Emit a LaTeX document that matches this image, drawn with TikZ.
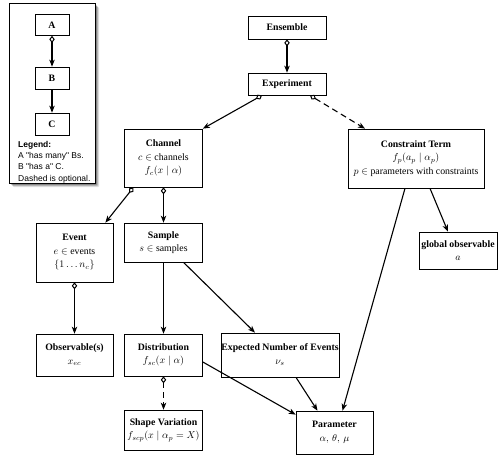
\documentclass[tikz,border=0pt]{standalone}
\usepackage{amsmath}
\usepackage{amssymb}
\usepackage{fontspec}
\setmainfont{Liberation Serif}
\newfontfamily\legendfont{Liberation Sans}
\usetikzlibrary{arrows.meta}

\begin{document}
\begin{tikzpicture}
[x=1pt,y=-1pt,font=\fontsize{9.8}{13.5}\selectfont]
\tikzset{
	box/.style = {draw, line width=0.7pt, fill=white, align=center, inner sep=0pt, minimum width=78pt},
	has many/.style = {line width=1.1pt, {Diamond[open,length=7pt,width=5.5pt,line width=1pt]}-{Stealth[length=7pt,width=5.5pt,inset=2pt]}},
	has a/.style = {line width=1.1pt, -{Stealth[length=7pt,width=5.5pt,inset=2pt]}},
	legendbox/.style = {draw, line width=1pt, fill=white, minimum width=86pt, minimum height=180pt}
}
\useasboundingbox (0,0) rectangle (498,456);

% legend, with a soft shadow
\foreach \s/\o in {4/0.12, 3/0.18, 2/0.25, 1/0.3}
	\fill [black, opacity=\o, rounded corners=1pt] (9+\s,3+\s) rectangle (95+\s,183+\s);
\node (leg) [legendbox] at (52,93) {};
\node (A) [box, minimum width=34pt, minimum height=21pt] at (52,25) {\textbf{A}};
\node (B) [box, minimum width=34pt, minimum height=22pt] at (52,78) {\textbf{B}};
\node (C) [box, minimum width=34pt, minimum height=22pt] at (52,124) {\textbf{C}};
\node (legtxt) [anchor=north west, align=left, inner sep=0pt, font=\legendfont\fontsize{8.5}{11.3}\selectfont] at (18,141)
	{\textbf{Legend:}\\A "has many" Bs.\\B "has a" C.\\Dashed is optional.};
\draw [has many] (A) -- (B);
\draw [has a] (B) -- (C);

% model
\node (ens) [box, minimum height=23pt] at (287,27.5) {\textbf{Ensemble}};
\node (exp) [box, minimum height=22pt] at (287,84) {\textbf{Experiment}};
\node (chan) [box, minimum height=58pt] at (163.5,158) {\textbf{Channel}\\$c \in$ channels\\$f_c(x \mid \alpha)$};
\node (con) [box, minimum width=136pt, minimum height=59pt] at (416,158.5)
	{\textbf{Constraint Term}\\$f_p(a_p \mid \alpha_p)$\\$p \in$ parameters with constraints};
\node (evt) [box, minimum width=77pt, minimum height=59pt] at (74.5,252.5) {\textbf{Event}\\$e \in$ events\\$\{1 \dots n_c\}$};
\node (smp) [box, minimum height=39pt] at (163.5,242.5) {\textbf{Sample}\\$s \in$ samples};
\node (glob) [box, minimum height=37pt] at (458,250.5) {\textbf{global observable}\\$a$};
\node (obs) [box, minimum width=77pt, minimum height=42pt] at (74.5,355) {\textbf{Observable(s)}\\$x_{ec}$};
\node (dist) [box, minimum height=42pt] at (163.5,355) {\textbf{Distribution}\\$f_{sc}(x \mid \alpha)$};
\node (nev) [box, minimum width=118pt, minimum height=44pt] at (280,355) {\textbf{Expected Number of Events}\\$\nu_s$};
\node (shp) [box, minimum height=40pt] at (163.5,430) {\textbf{Shape Variation}\\$f_{scp}(x \mid \alpha_p = X)$};
\node (par) [box, minimum width=77pt, minimum height=43pt] at (334.5,432.5) {\textbf{Parameter}\\$\alpha,\, \theta,\, \mu$};

\draw [has many] (ens) -- (exp);
\draw [has many] ([xshift=-25pt]exp.south) -- (chan.north east);
\draw [has many, dashed, dash pattern=on 6pt off 4pt] ([xshift=23pt]exp.south) -- ([xshift=-51pt]con.north);
\draw [has many] ([xshift=-30pt]chan.south) -- ([xshift=-8pt]evt.north east);
\draw [has many] (chan) -- (smp);
\draw [has many] (evt) -- (obs);
\draw [has a] (smp) -- (dist);
\draw [has a] ([xshift=20pt]smp.south) -- ([xshift=-25pt]nev.north);
\draw [has many, dashed, dash pattern=on 6pt off 4pt] (dist) -- (shp);
\draw [has a] ([yshift=-7pt]dist.east) -- ([yshift=-4pt]par.north west);
\draw [has a] ([xshift=16pt]nev.south) -- ([xshift=-17pt]par.north);
\draw [has a] ([xshift=-11pt]con.south) -- ([xshift=8pt]par.north);
\draw [has a] ([xshift=14pt]con.south) -- ([xshift=-10pt]glob.north);
\end{tikzpicture}
\end{document}
